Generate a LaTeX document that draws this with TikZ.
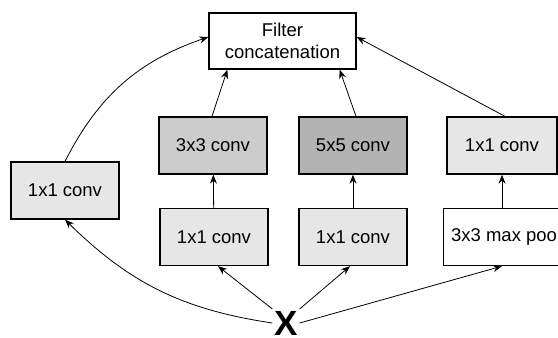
\documentclass[tikz,border=0pt]{standalone}
\usepackage{fontspec}
\setmainfont{Liberation Sans}
\usetikzlibrary{arrows.meta}

\definecolor{grigioA}{HTML}{E6E6E6}
\definecolor{grigioB}{HTML}{CCCCCC}
\definecolor{grigioC}{HTML}{B3B3B3}

\begin{document}
\begin{tikzpicture}[x=1pt,y=-1pt,>={Stealth[length=9pt,width=7pt]}]

% Stili per i blocchi e le frecce
\tikzset{blocco/.style={draw, line width=1.3pt, minimum width=108pt, minimum height=57pt,
    inner sep=0pt, align=center, font=\fontsize{18.5}{22}\selectfont},
  freccia/.style={->, line width=0.8pt}}

\useasboundingbox (0,0) rectangle (558,338);

% --- Uscita ---
\node[blocco, minimum width=147pt, minimum height=56pt] (concat) at (282.5,41) {Filter\\concatenation};

% --- Riga superiore ---
\node[blocco, fill=grigioB] (conv3) at (213,145.5) {3x3 conv};
\node[blocco, fill=grigioC] (conv5) at (353,145.5) {5x5 conv};
\node[blocco, fill=grigioA, minimum width=110pt] (convp) at (502,145.5) {1x1 conv};
\node[blocco, fill=grigioA] (conv1) at (65,190.5) {1x1 conv};

% --- Riga inferiore ---
\node[blocco, fill=grigioA] (rid3) at (214,237) {1x1 conv};
\node[blocco, fill=grigioA] (rid5) at (353,237) {1x1 conv};
\node[blocco, anchor=west, minimum width=125pt, align=left, inner xsep=5pt] (pool) at (443,237) {3x3 max pool};

% Ingresso
\node[font=\fontsize{35}{35}\bfseries\selectfont, inner sep=0pt, outer sep=2pt] (ingr) at (286,323) {X};

% Frecce verso la concatenazione
\draw[freccia] (conv1.north) to[bend left=22] ([yshift=4pt]concat.west);
\draw[freccia] ([xshift=-1pt]conv3.north) -- ([xshift=19pt]concat.south west);
\draw[freccia] ([xshift=3pt]conv5.north) -- ([xshift=-17pt]concat.south east);
\draw[freccia] ([xshift=3pt]convp.north) -- ([yshift=4pt]concat.east);

% Frecce interne
\draw[freccia] (rid3) -- (conv3);
\draw[freccia] (rid5) -- (conv5);
\draw[freccia] (pool.north -| convp.south) -- (convp.south);

% Frecce dall'ingresso
\draw[freccia] (ingr.west) to[bend left=18] (conv1.south);
\draw[freccia] (ingr.north west) -- ([xshift=4pt]rid3.south);
\draw[freccia] (ingr.north east) -- ([xshift=-3pt]rid5.south);
\draw[freccia] (ingr.east) -- (pool.south -| convp.south);

\end{tikzpicture}
\end{document}
